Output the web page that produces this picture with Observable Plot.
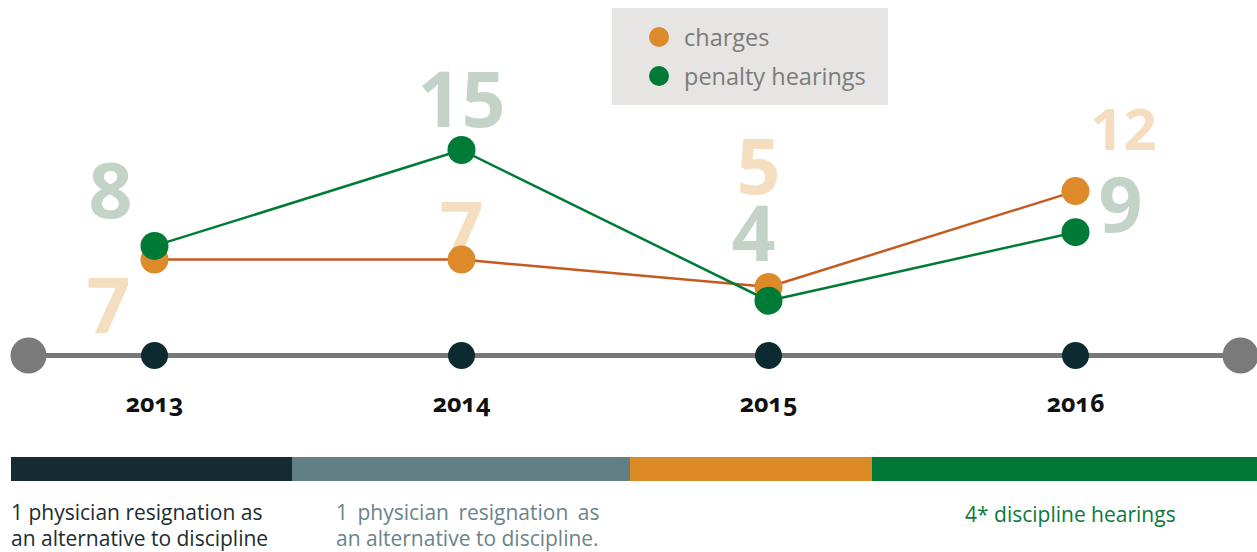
<!DOCTYPE html>
<html>
<head>
<meta charset="utf-8">
<script src="https://cdn.jsdelivr.net/npm/d3@7"></script>
<script src="https://cdn.jsdelivr.net/npm/@observablehq/plot@0.6"></script>
<style>
  body { margin: 0; background: #fff; font-family: "Open Sans", sans-serif; }
  #wrap { position: relative; width: 1257px; height: 552px; overflow: hidden; }
  #chart { position: absolute; left: 0; top: 0; }
  #legend { position: absolute; left: 612px; top: 8px; width: 276px; height: 97px; background: #e6e5e3; }
  .li { position: absolute; left: 37px; height: 30px; display: flex; align-items: center; font-size: 23.5px; color: #7b7b7b; white-space: nowrap; }
  .sw { width: 20px; height: 20px; border-radius: 50%; margin-right: 15px; flex: none; }
  #bars { position: absolute; left: 11px; top: 457px; height: 24px; display: flex; }
  #bars div { height: 24px; }
  .note { position: absolute; font-size: 21px; line-height: 26px; white-space: nowrap; }
</style>
</head>
<body>
<div id="wrap">
  <div id="chart"></div>
  <div id="legend"></div>
  <div id="bars"></div>
  <div id="notes"></div>
</div>
<script>
// ---- data ----
const years = [2013, 2014, 2015, 2016];
const charges = [7, 7, 5, 12];
const penaltyHearings = [8, 15, 4, 9];
const seriesNames = ["charges", "penalty hearings"];

const segmentLabels = [
  ["1 physician resignation as", "an alternative to discipline"],
  ["1 physician resignation as", "an alternative to discipline."],
  [],
  ["4* discipline hearings"]
];

// ---- styles ----
const dotColors = { "charges": "#dc8a2a", "penalty hearings": "#007a37" };
const lineColors = { "charges": "#c55a20", "penalty hearings": "#007a37" };
const labelColors = { "charges": "#f5ddbf", "penalty hearings": "#c3d3c7" };
// label placement offsets (dx, dy, font size) per series per year index
const labelOffsets = {
  "charges": [[-46, 49, 77], [0, -27, 77], [-10, -118, 77], [48, -60, 58]],
  "penalty hearings": [[-44, -53, 77], [0, -48, 77], [-15, -64, 77], [45, -25, 77]]
};
const segColors = ["#152c32", "#617f84", "#dc8a26", "#007936"];
const segWidths = [281, 338, 242, 385];
const noteStyles = [
  { left: 11, top: 42, color: "#1b2d31", wordSpacing: [0, 0] },
  { left: 336, top: 42, color: "#6a8489", wordSpacing: [4, 0] },
  null,
  { left: 965, top: 44, color: "#0a7a3c", wordSpacing: [0] }
];

const rows = [];
years.forEach((year, i) => {
  rows.push({ series: "charges", year, value: charges[i], i });
  rows.push({ series: "penalty hearings", year, value: penaltyHearings[i], i });
});

const labelMarks = rows.map(r => {
  const [dx, dy, fs] = labelOffsets[r.series][r.i];
  return Plot.text([r], {
    x: "year", y: "value", text: d => String(d.value),
    dx, dy, fontSize: fs, fontWeight: 700, fill: labelColors[r.series]
  });
});

const chart = Plot.plot({
  width: 1257,
  height: 440,
  marginLeft: 28,
  marginRight: 17,
  marginTop: 0,
  marginBottom: 0,
  style: { fontFamily: "Open Sans, sans-serif", background: "transparent", overflow: "visible" },
  x: { type: "linear", domain: [2013, 2016], range: [154, 1075], axis: null },
  y: { domain: [0, 15], range: [355, 149.5], axis: null },
  marks: [
    ...labelMarks,
    Plot.ruleY([0], { stroke: "#777777", strokeWidth: 5 }),
    Plot.dot([0], { y: d => d, frameAnchor: "left", r: 18, fill: "#7a7a7a" }),
    Plot.dot([0], { y: d => d, frameAnchor: "right", r: 18, fill: "#7a7a7a" }),
    Plot.dot(years, { x: d => d, y: () => 0, r: 13.5, fill: "#0e2a31" }),
    Plot.text(years, { x: d => d, y: () => 0, text: d => String(d), dy: 48, fontSize: 25, fontWeight: 700, fill: "#111", fontVariant: "oldstyle-nums" }),
    Plot.line(rows.filter(d => d.series === "charges"), { x: "year", y: "value", stroke: lineColors["charges"], strokeWidth: 2.5 }),
    Plot.line(rows.filter(d => d.series === "penalty hearings"), { x: "year", y: "value", stroke: lineColors["penalty hearings"], strokeWidth: 2.5 }),
    Plot.dot(rows, { x: "year", y: "value", r: 14, fill: d => dotColors[d.series] })
  ]
});
document.getElementById("chart").append(chart);

// legend
const legend = document.getElementById("legend");
seriesNames.forEach((name, k) => {
  const item = document.createElement("div");
  item.className = "li";
  item.style.top = (14 + k * 39) + "px";
  const sw = document.createElement("span");
  sw.className = "sw";
  sw.style.background = dotColors[name];
  item.append(sw, document.createTextNode(name));
  legend.append(item);
});

// bottom bars and notes
const bars = document.getElementById("bars");
segColors.forEach((c, k) => {
  const d = document.createElement("div");
  d.style.background = c;
  d.style.width = segWidths[k] + "px";
  bars.append(d);
});
const notes = document.getElementById("notes");
notes.style.position = "absolute";
notes.style.left = "0px";
notes.style.top = "457px";
segmentLabels.forEach((lines, k) => {
  if (!lines.length) return;
  const s = noteStyles[k];
  const d = document.createElement("div");
  d.className = "note";
  d.style.left = s.left + "px";
  d.style.top = s.top + "px";
  d.style.color = s.color;
  lines.forEach((line, j) => {
    const ln = document.createElement("div");
    ln.style.wordSpacing = s.wordSpacing[j] + "px";
    ln.textContent = line;
    d.append(ln);
  });
  notes.append(d);
});
</script>
</body>
</html>
